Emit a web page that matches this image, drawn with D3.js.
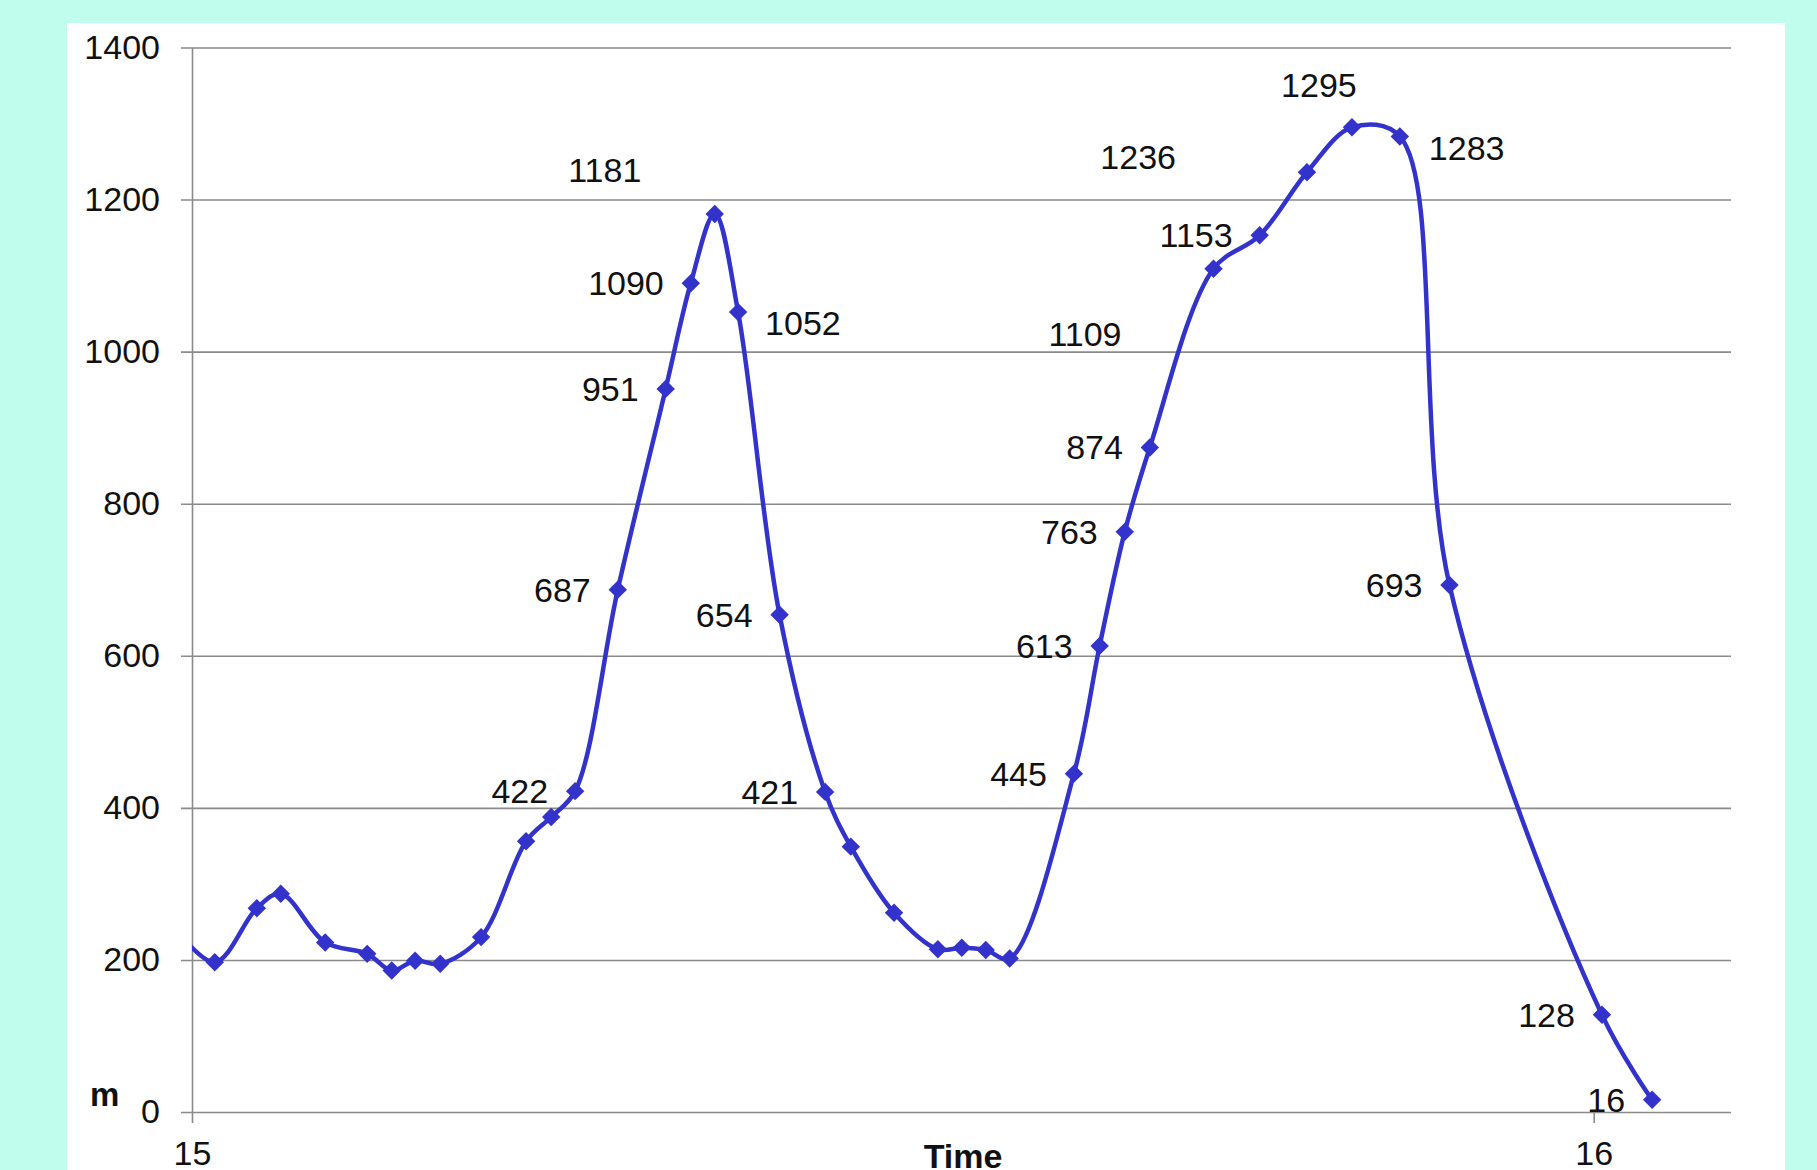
<!DOCTYPE html>
<html>
<head>
<meta charset="utf-8">
<script src="https://cdn.jsdelivr.net/npm/d3@7"></script>
<style>
    body { margin: 0; background: #c0fdec; }
    svg { display: block; }
    text { font-family: "Liberation Sans", Arial, sans-serif; }
</style>
</head>
<body>
<svg id="chart" width="1817" height="1170"></svg>
<script>
// hours after day 15 00:00 (first one sits just before the axis and is clipped)
const hours = [-0.4, 0.39, 1.11, 1.52, 2.28, 3.0, 3.42, 3.82, 4.25, 4.95, 5.72, 6.15, 6.56,
    7.29, 8.11, 8.54, 8.95, 9.35, 10.06, 10.84, 11.28, 12.02, 12.77, 13.18, 13.59, 14.0,
    15.1, 15.54, 15.97, 16.4, 17.49, 18.28, 19.09, 19.86, 20.68, 21.53, 24.14, 25.0];
const values = [252, 197, 268, 287, 223, 208, 186, 199, 195, 230, 356, 388, 422,
    687, 951, 1090, 1181, 1052, 654, 421, 349, 262, 214, 216, 213, 202,
    445, 613, 763, 874, 1109, 1153, 1236, 1295, 1283, 693, 128, 16];
// which points carry a value label
const labelled = [12, 13, 14, 15, 16, 17, 18, 19, 26, 27, 28, 29, 30, 31, 32, 33, 34, 35, 36, 37];

const yTicks = [0, 200, 400, 600, 800, 1000, 1200, 1400];
const xTickHours = [0, 24];
const xTickLabels = ["15", "16"];

// label placement (default: left of the marker)
const labelPlace = {
    16: { anchor: "middle", dx: -110, dy: -44 },
    17: { anchor: "start", dx: 27, dy: 11 },
    30: { anchor: "end", dx: -92, dy: 65 },
    32: { anchor: "end", dx: -131, dy: -15 },
    33: { anchor: "middle", dx: -33, dy: -42 },
    34: { anchor: "start", dx: 29, dy: 12 }
};

const svg = d3.select("#chart");
const plotLeft = 192, plotRight = 1731, plotTop = 47.5, plotBottom = 1112;

svg.append("rect").attr("x", 0).attr("y", 0).attr("width", 1817).attr("height", 1170).attr("fill", "#c0fdec");
svg.append("rect").attr("x", 67).attr("y", 23).attr("width", 1718).attr("height", 1160).attr("fill", "#fff");

const x = d3.scaleLinear().domain([0, 26.35]).range([plotLeft, plotRight]);
const y = d3.scaleLinear().domain([0, 1400]).range([plotBottom, plotTop]);

// y axis + grid
const yAxis = svg.append("g")
    .attr("transform", `translate(${plotLeft},0)`)
    .call(d3.axisLeft(y).tickValues(yTicks).tickFormat(d3.format("d"))
        .tickSize(-(plotRight - plotLeft)).tickSizeOuter(0).tickPadding(32));
yAxis.selectAll(".tick line").attr("x1", -11).attr("stroke", "#8a8a8a").attr("stroke-width", 1.6);
yAxis.select(".domain").attr("stroke", "#8a8a8a").attr("stroke-width", 1.6);
yAxis.selectAll("text").attr("font-size", 34).attr("fill", "#111")
    .style("font-family", "'Liberation Sans', Arial, sans-serif");

// x axis
const xAxis = svg.append("g")
    .attr("transform", `translate(0,${plotBottom})`)
    .call(d3.axisBottom(x).tickValues(xTickHours)
        .tickFormat((d, i) => xTickLabels[i]).tickSize(11).tickSizeOuter(0).tickPadding(18));
xAxis.select(".domain").remove();
xAxis.selectAll(".tick line").attr("stroke", "#8a8a8a").attr("stroke-width", 1.6);
xAxis.selectAll("text").attr("font-size", 34).attr("fill", "#111")
    .style("font-family", "'Liberation Sans', Arial, sans-serif");

svg.append("text").attr("x", 963).attr("y", 1168).attr("text-anchor", "middle")
    .attr("font-size", 34).attr("font-weight", "bold").attr("fill", "#111").text("Time");
svg.append("text").attr("x", 90).attr("y", 1106)
    .attr("font-size", 33).attr("font-weight", "bold").attr("fill", "#111").text("m");

// data line
const pts = hours.map((h, i) => ({ h: h, v: values[i], i: i }));

svg.append("clipPath").attr("id", "plotClip")
    .append("rect").attr("x", plotLeft).attr("y", 0).attr("width", plotRight - plotLeft + 20).attr("height", 1170);

const line = d3.line()
    .x(d => x(d.h))
    .y(d => y(d.v))
    .curve(d3.curveCatmullRom.alpha(0.5));

svg.append("path")
    .datum(pts)
    .attr("clip-path", "url(#plotClip)")
    .attr("d", line)
    .attr("fill", "none")
    .attr("stroke", "#3333cc")
    .attr("stroke-width", 4.5);

const diamond = d3.symbol().type(d3.symbolSquare).size(170);
svg.selectAll(".marker")
    .data(pts.filter(d => d.h >= 0))
    .join("path")
    .attr("class", "marker")
    .attr("d", diamond)
    .attr("transform", d => `translate(${x(d.h)},${y(d.v)}) rotate(45)`)
    .attr("fill", "#3333cc");

// value labels
svg.selectAll(".vlabel")
    .data(pts.filter(d => labelled.includes(d.i)))
    .join("text")
    .attr("class", "vlabel")
    .attr("x", d => x(d.h) + (labelPlace[d.i] ? labelPlace[d.i].dx : -27))
    .attr("y", d => y(d.v) + (labelPlace[d.i] ? labelPlace[d.i].dy : 0))
    .attr("dy", "0.35em")
    .attr("text-anchor", d => labelPlace[d.i] ? labelPlace[d.i].anchor : "end")
    .attr("font-size", 34)
    .attr("fill", "#111")
    .text(d => d.v);
</script>
</body>
</html>
